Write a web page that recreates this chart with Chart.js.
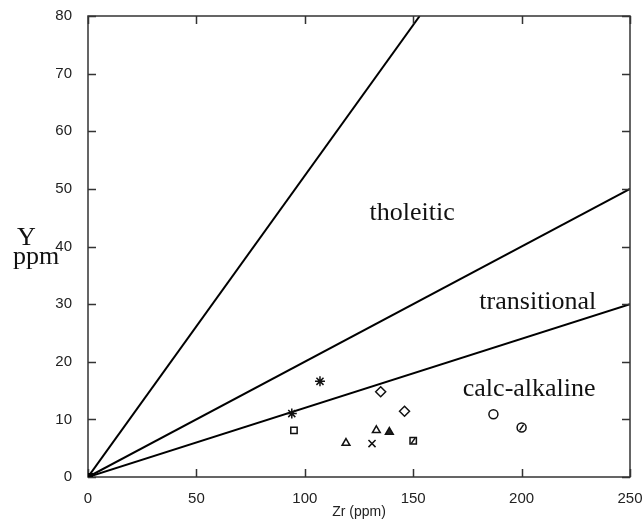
<!DOCTYPE html>
<html>
<head>
<meta charset="utf-8">
<script src="https://cdn.jsdelivr.net/npm/chart.js@4"></script>
<style>
  html, body { margin: 0; padding: 0; background: #fff; }
  #wrap { width: 644px; height: 526px; }
</style>
</head>
<body>
<div id="wrap"><canvas id="c" width="644" height="526"></canvas></div>
<script>
// discrimination lines, from origin to these end points
const lineEnds = [[153, 80], [250, 50], [250, 30]];

// samples
const sampleZr = [107, 94, 135, 146, 95, 133, 139, 119, 131, 150, 187, 200];
const sampleY = [16.6, 11, 14.8, 11.4, 8.1, 8.1, 7.8, 5.9, 5.8, 6.3, 10.9, 8.6];
const sampleMarker = ['star', 'star', 'rectRot', 'rectRot', 'rect', 'triangle', 'triangleFilled',
                      'triangle', 'crossRot', 'rectSlash', 'circle', 'circleMark'];

// field labels
const fieldNames = ['tholeitic', 'transitional', 'calc-alkaline'];
const fieldZr = [149.5, 207.5, 203.5];
const fieldY = [45.8, 30.3, 15.2];

const xTicks = [0, 50, 100, 150, 200, 250];
const yTicks = [0, 10, 20, 30, 40, 50, 60, 70, 80];

const baseStyle = m => ({ star: 'star', rectRot: 'rectRot', rect: 'rect', triangle: 'triangle',
    triangleFilled: 'triangle', crossRot: 'crossRot', rectSlash: 'rect', circle: 'circle',
    circleMark: 'circle' })[m];

const pts = sampleZr.map((x, i) => ({ x, y: sampleY[i] }));

const slashIdx = sampleMarker.map((m, i) => (m === 'rectSlash' || m === 'circleMark') ? i : -1).filter(i => i >= 0);

const datasets = lineEnds.map(e => ({
    data: [{ x: 0, y: 0 }, { x: e[0], y: e[1] }],
    showLine: true,
    borderColor: '#000',
    borderWidth: 2,
    pointRadius: 0,
    order: 2
}));

datasets.push({
    data: pts,
    order: 1,
    pointStyle: sampleMarker.map(baseStyle),
    pointRadius: sampleMarker.map(m => m === 'star' ? 5 : (m === 'rectRot' || m === 'crossRot' ? 5 : 4.5)),
    pointBorderColor: '#111',
    pointBorderWidth: 1.5,
    pointBackgroundColor: sampleMarker.map(m => m === 'triangleFilled' ? '#222' : '#fff')
});

// slash drawn inside the boxed / marked symbols, on top
datasets.push({
    data: slashIdx.map(i => pts[i]),
    order: 0,
    pointStyle: 'line',
    pointRotation: -55,
    pointRadius: 3.5,
    pointBorderColor: '#111',
    pointBorderWidth: 1.5
});

const framePlugin = {
    id: 'frame',
    afterDraw(chart) {
        const { ctx, chartArea: { left, right, top, bottom }, scales: { x, y } } = chart;
        ctx.save();
        ctx.strokeStyle = '#333';
        ctx.lineWidth = 1.5;
        ctx.strokeRect(left, top, right - left, bottom - top);
        ctx.beginPath();
        const tl = 8;
        xTicks.forEach(v => {
            const px = Math.round(x.getPixelForValue(v)) + 0.5;
            ctx.moveTo(px, bottom); ctx.lineTo(px, bottom - tl);
            ctx.moveTo(px, top); ctx.lineTo(px, top + tl);
        });
        yTicks.forEach(v => {
            const py = Math.round(y.getPixelForValue(v)) + 0.5;
            ctx.moveTo(left, py); ctx.lineTo(left + tl, py);
            ctx.moveTo(right, py); ctx.lineTo(right - tl, py);
        });
        ctx.stroke();

        // origin blob where the lines meet
        ctx.fillStyle = '#000';
        ctx.fillRect(left, bottom - 4, 5, 4);

        ctx.fillStyle = '#111';
        ctx.font = '26px "Liberation Serif", "Times New Roman", serif';
        ctx.textAlign = 'center';
        ctx.textBaseline = 'middle';
        fieldNames.forEach((t, i) => {
            ctx.fillText(t, x.getPixelForValue(fieldZr[i]), y.getPixelForValue(fieldY[i]));
        });

        ctx.textAlign = 'left';
        ctx.textBaseline = 'alphabetic';
        ctx.fillText('Y', 17, 245);
        ctx.fillText('ppm', 13, 264);

        ctx.fillStyle = '#222';
        ctx.font = '14px "Liberation Sans Narrow", "Liberation Sans", Arial, sans-serif';
        ctx.textAlign = 'center';
        ctx.fillText('Zr (ppm)', (left + right) / 2, 516);
        ctx.restore();
    }
};

const tickFont = { family: '"Liberation Sans Narrow", "Liberation Sans", Arial, sans-serif', size: 15 };

new Chart(document.getElementById('c'), {
    type: 'scatter',
    data: { datasets },
    plugins: [framePlugin],
    options: {
        responsive: false,
        animation: false,
        layout: { padding: { left: 0, right: 14, top: 16, bottom: 0 } },
        plugins: { legend: { display: false }, tooltip: { enabled: false } },
        scales: {
            x: {
                type: 'linear', min: 0, max: 250,
                afterFit: s => { s.height = 49; s.paddingLeft = 0; s.paddingRight = 0; },
                afterBuildTicks: s => { s.ticks = xTicks.map(v => ({ value: v })); },
                grid: { display: false, drawTicks: false },
                border: { display: false },
                ticks: { color: '#222', padding: 13, maxRotation: 0, font: tickFont }
            },
            y: {
                type: 'linear', min: 0, max: 80,
                afterFit: s => { s.width = 88; s.paddingTop = 0; s.paddingBottom = 0; },
                afterBuildTicks: s => { s.ticks = yTicks.map(v => ({ value: v })); },
                grid: { display: false, drawTicks: false },
                border: { display: false },
                ticks: { color: '#222', padding: 16, font: tickFont }
            }
        }
    }
});
</script>
</body>
</html>
